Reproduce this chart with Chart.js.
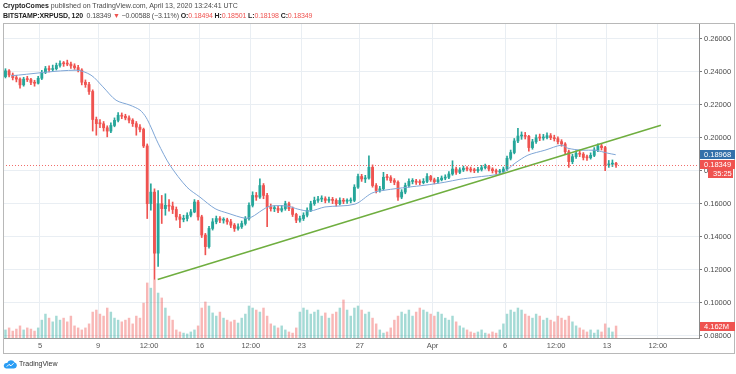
<!DOCTYPE html>
<html>
<head>
<meta charset="utf-8">
<script src="https://cdn.jsdelivr.net/npm/chart.js@4.4.1/dist/chart.umd.min.js"></script>
<style>
  html, body { margin: 0; padding: 0; background: #fff; }
  body { width: 736px; height: 374px; position: relative; overflow: hidden; font-family: "Liberation Sans", Arial, sans-serif; }
  #chart { position: absolute; left: 0; top: 0; }
  .hdr { position: absolute; left: 3px; font-size: 7px; line-height: 10px; color: #4a4a4a; white-space: nowrap; }
  .hdr b { color: #222; }
  #hdr1 { top: 1px; }
  #hdr2 { top: 11px; letter-spacing: -0.12px; }
  .red { color: #ef5350; }
  #foot { position: absolute; left: 3px; top: 359px; height: 10px; font-size: 7px; line-height: 10px; color: #333; white-space: nowrap; }
  #foot svg { position: absolute; left: 0; top: 0; }
  #foot span { position: absolute; left: 16px; top: 0; }
</style>
</head>
<body>
<canvas id="chart" width="736" height="374"></canvas>
<div class="hdr" id="hdr1"><b>CryptoComes</b> published on TradingView.com, April 13, 2020 13:24:41 UTC</div>
<div class="hdr" id="hdr2"><b>BITSTAMP:XRPUSD, 120</b>&nbsp; 0.18349 <span class="red">▼</span> −0.00588 (−3.11%) <b>O:</b><span class="red">0.18494</span> <b>H:</b><span class="red">0.18501</span> <b>L:</b><span class="red">0.18198</span> <b>C:</b><span class="red">0.18349</span></div>
<div id="foot">
  <svg width="14" height="10" viewBox="0 0 14 10"><path d="M3 9.5 H11 A3 3 0 0 0 11.6 3.6 A4 4 0 0 0 4.2 4 A2.8 2.8 0 0 0 3 9.5 Z" fill="#2a9df4"/><path d="M3.8 7.6 L6 5.4 L8 6.8 L10.6 4.2" stroke="#fff" stroke-width="1" fill="none"/></svg>
  <span>TradingView</span>
</div>
<script>
// 6h candles, x = days after Mar 1 (centre of candle)
const startDay = 1.625;
const candleStep = 0.25;
const firstOpen = 0.2370;

const closes = [
  0.2405,0.2380,0.2364,0.2355,0.2320,0.2355,0.2352,0.2335,0.2330,0.2360,
  0.2396,0.2418,0.2413,0.2418,0.2438,0.2450,0.2448,0.2446,0.2435,0.2425,
  0.2410,0.2336,0.2322,0.2280,0.2110,0.2085,0.2084,0.2060,0.2040,0.2074,
  0.2105,0.2136,0.2130,0.2120,0.2106,0.2085,0.2064,0.2050,0.1950,0.1600,
  0.1670,0.1300,0.1600,0.1570,0.1590,0.1585,0.1565,0.1520,0.1505,0.1510,
  0.1530,0.1550,0.1610,0.1520,0.1410,0.1340,0.1450,0.1490,0.1510,0.1500,
  0.1502,0.1490,0.1470,0.1450,0.1460,0.1480,0.1510,0.1590,0.1650,0.1640,
  0.1710,0.1650,0.1580,0.1570,0.1572,0.1560,0.1570,0.1600,0.1570,0.1535,
  0.1500,0.1510,0.1530,0.1560,0.1600,0.1620,0.1628,0.1630,0.1620,0.1625,
  0.1620,0.1600,0.1620,0.1615,0.1617,0.1620,0.1700,0.1765,0.1750,0.1755,
  0.1820,0.1710,0.1680,0.1690,0.1760,0.1758,0.1740,0.1730,0.1640,0.1670,
  0.1710,0.1735,0.1737,0.1730,0.1728,0.1735,0.1765,0.1745,0.1733,0.1745,
  0.1755,0.1760,0.1780,0.1810,0.1790,0.1805,0.1815,0.1810,0.1803,0.1800,
  0.1808,0.1818,0.1825,0.1810,0.1800,0.1792,0.1795,0.1810,0.1875,0.1910,
  0.1980,0.2010,0.2012,0.2008,0.1940,0.1975,0.2000,0.1998,0.2000,0.2012,
  0.2000,0.1994,0.1976,0.1962,0.1915,0.1855,0.1885,0.1905,0.1900,0.1880,
  0.1878,0.1893,0.1925,0.1950,0.1940,0.1835,0.1840,0.1845,0.18349
];

const highs = [
  0.2418,0.2412,0.2392,0.2378,0.2362,0.2366,0.2372,0.2360,0.2348,0.2372,
  0.2408,0.2432,0.2436,0.2440,0.2452,0.2465,0.2462,0.2470,0.2458,0.2448,
  0.2438,0.2418,0.2350,0.2335,0.2290,0.2125,0.2110,0.2098,0.2072,0.2090,
  0.2120,0.2152,0.2150,0.2142,0.2132,0.2115,0.2098,0.2080,0.2058,0.1962,
  0.1720,0.1690,0.1680,0.1650,0.1660,0.1625,0.1610,0.1580,0.1535,0.1530,
  0.1545,0.1565,0.1625,0.1620,0.1530,0.1420,0.1462,0.1510,0.1525,0.1522,
  0.1515,0.1512,0.1505,0.1480,0.1478,0.1495,0.1522,0.1605,0.1672,0.1668,
  0.1750,0.1722,0.1662,0.1598,0.1588,0.1585,0.1590,0.1615,0.1610,0.1580,
  0.1542,0.1525,0.1545,0.1575,0.1615,0.1640,0.1645,0.1648,0.1642,0.1640,
  0.1638,0.1630,0.1635,0.1632,0.1630,0.1635,0.1715,0.1780,0.1778,0.1772,
  0.1890,0.1835,0.1722,0.1705,0.1790,0.1778,0.1770,0.1752,0.1738,0.1685,
  0.1725,0.1750,0.1752,0.1748,0.1745,0.1752,0.1782,0.1772,0.1755,0.1760,
  0.1768,0.1775,0.1795,0.1860,0.1822,0.1818,0.1828,0.1825,0.1822,0.1815,
  0.1820,0.1832,0.1840,0.1832,0.1818,0.1810,0.1808,0.1822,0.1888,0.1925,
  0.1995,0.2057,0.2035,0.2032,0.2015,0.1990,0.2018,0.2022,0.2020,0.2030,
  0.2025,0.2015,0.2005,0.1988,0.1970,0.1925,0.1900,0.1920,0.1918,0.1910,
  0.1895,0.1908,0.1940,0.1962,0.1960,0.1948,0.1862,0.1865,0.18501
];

const lows = [
  0.2362,0.2368,0.2350,0.2338,0.2300,0.2312,0.2340,0.2322,0.2312,0.2325,
  0.2352,0.2388,0.2398,0.2402,0.2410,0.2428,0.2432,0.2436,0.2420,0.2414,
  0.2398,0.2320,0.2305,0.2262,0.2040,0.2015,0.2060,0.2040,0.2005,0.2030,
  0.2066,0.2096,0.2115,0.2108,0.2090,0.2068,0.2015,0.2035,0.1940,0.1510,
  0.1560,0.1141,0.1220,0.1480,0.1530,0.1555,0.1540,0.1500,0.1455,0.1490,
  0.1495,0.1520,0.1545,0.1500,0.1395,0.1290,0.1330,0.1440,0.1478,0.1485,
  0.1482,0.1475,0.1455,0.1432,0.1440,0.1450,0.1470,0.1500,0.1580,0.1620,
  0.1632,0.1630,0.1460,0.1555,0.1552,0.1545,0.1550,0.1560,0.1558,0.1522,
  0.1485,0.1488,0.1498,0.1520,0.1552,0.1590,0.1608,0.1612,0.1605,0.1608,
  0.1600,0.1585,0.1592,0.1600,0.1602,0.1605,0.1612,0.1692,0.1735,0.1728,
  0.1748,0.1700,0.1665,0.1670,0.1682,0.1742,0.1728,0.1715,0.1620,0.1630,
  0.1660,0.1700,0.1720,0.1716,0.1715,0.1720,0.1728,0.1735,0.1720,0.1725,
  0.1738,0.1745,0.1752,0.1772,0.1778,0.1782,0.1795,0.1798,0.1792,0.1788,
  0.1790,0.1798,0.1810,0.1798,0.1786,0.1778,0.1780,0.1785,0.1802,0.1865,
  0.1902,0.1970,0.1990,0.1992,0.1918,0.1930,0.1965,0.1982,0.1985,0.1992,
  0.1988,0.1980,0.1962,0.1948,0.1900,0.1820,0.1842,0.1875,0.1885,0.1865,
  0.1862,0.1870,0.1885,0.1915,0.1925,0.1800,0.1820,0.1825,0.18198
];

// volume, millions
const volumes = [
  2.8,3.5,2.4,3.1,4.2,2.8,3.5,3.1,2.4,3.5,
  6.2,8.3,6.9,5.6,7.6,6.2,6.9,5.6,7.6,4.2,
  3.5,2.8,3.5,4.9,9.0,9.7,8.3,7.6,10.4,9.0,
  6.9,6.2,5.6,6.2,6.9,4.9,7.6,6.9,12.1,19.1,
  17.3,20.1,15.6,13.9,10.4,7.6,6.2,2.8,2.1,1.7,
  1.4,2.1,2.8,4.2,10.4,12.5,11.1,8.7,7.6,9.0,
  6.9,6.2,5.6,6.2,5.2,6.9,8.3,11.1,10.4,9.7,
  9.0,10.4,7.6,4.9,4.2,3.5,4.2,2.8,2.1,1.7,
  3.5,9.0,10.4,9.7,8.3,9.0,9.7,7.6,8.7,6.9,
  8.3,9.0,10.4,13.2,9.7,7.6,10.4,11.1,9.7,8.3,
  9.0,6.9,4.9,2.8,1.7,2.1,3.5,6.2,7.6,9.0,
  8.3,9.7,7.6,9.0,10.4,9.7,9.0,8.3,7.6,9.0,
  8.3,6.9,6.2,7.6,5.6,4.2,3.5,2.8,2.1,1.7,
  2.1,2.8,1.7,1.4,2.1,1.7,2.8,4.9,8.3,9.7,
  9.0,10.4,9.7,8.3,7.6,6.9,8.3,7.6,6.2,6.9,
  6.2,5.6,7.6,6.9,6.2,7.6,5.6,4.2,3.5,2.8,
  2.1,2.8,1.7,2.8,2.1,4.9,3.5,2.1,4.162
];

// moving average (blue line)
const maDays = [2.0, 6.48, 7.51, 8.33, 9.23, 10.19, 10.88, 11.29, 11.63, 12.12, 12.94, 14.11, 15.0, 16.04, 16.93, 18.1, 18.58, 19.27, 19.82, 21.06, 21.74, 22.57, 23.6, 25.66, 26.83, 27.73, 29.31, 30.48, 31.85, 32.89, 33.92, 35.77, 36.67, 37.56, 38.73, 39.9, 40.31, 41.28, 42.17, 43.06, 43.6];
const maValues = [0.2375, 0.2409, 0.2379, 0.2308, 0.2227, 0.2197, 0.2167, 0.2124, 0.2064, 0.1967, 0.1833, 0.1700, 0.1640, 0.1570, 0.1542, 0.1512, 0.1520, 0.1560, 0.1585, 0.1585, 0.1567, 0.1555, 0.1580, 0.1597, 0.1664, 0.1682, 0.1700, 0.1712, 0.1730, 0.1748, 0.1760, 0.1785, 0.1845, 0.1894, 0.1924, 0.1955, 0.1936, 0.1924, 0.1924, 0.1906, 0.18968];

// green trend line
const trendDays = [12.095, 46.71];
const trendPrices = [0.1141, 0.2075];

const tickDays = [4, 8, 11.5, 15, 18.5, 22, 26, 31, 36, 39.5, 43, 46.5];
const tickLabels = ['5', '9', '12:00', '16', '12:00', '23', '27', 'Apr', '6', '12:00', '13', '12:00'];

const lastMa = 0.18968;
const lastPrice = 0.18349;
const countdown = '35:25';
const lastVolLabel = '4.162M';

const UP = '#26a69a', DOWN = '#ef5350';

const bodies = [], wicks = [], vols = [];
const bodyColors = [], volColors = [];
for (let i = 0; i < closes.length; i++) {
  let o = i == 0 ? firstOpen : closes[i - 1];
  let c = closes[i];
  let x = startDay + i * candleStep;
  let up = c >= o;
  bodies.push({ x: x, y: [o, c] });
  wicks.push({ x: x, y: [lows[i], highs[i]] });
  vols.push({ x: x, y: volumes[i] });
  bodyColors.push(up ? UP : DOWN);
  volColors.push(up ? 'rgba(38,166,154,0.42)' : 'rgba(239,83,80,0.42)');
}
const maData = maDays.map((d, i) => ({ x: d, y: maValues[i] }));
const trendData = trendDays.map((d, i) => ({ x: d, y: trendPrices[i] }));

function tag(ctx, yc, text, bg, x0, x1, tx) {
  ctx.fillStyle = bg;
  ctx.fillRect(x0, Math.round(yc - 4.5), x1 - x0, 9);
  ctx.fillStyle = '#fff';
  ctx.textBaseline = 'middle';
  ctx.textAlign = 'left';
  ctx.fillText(text, tx, yc + 0.5);
}

const overlays = {
  id: 'overlays',
  afterDatasetsDraw(chart) {
    const ctx = chart.ctx, a = chart.chartArea;
    const y = Math.round(chart.scales.y.getPixelForValue(lastPrice)) + 0.5;
    ctx.save();
    ctx.strokeStyle = 'rgba(239,83,80,0.85)';
    ctx.lineWidth = 1;
    ctx.setLineDash([1, 2]);
    ctx.beginPath();
    ctx.moveTo(a.left, y);
    ctx.lineTo(a.right, y);
    ctx.stroke();
    ctx.restore();
  },
  afterDraw(chart) {
    const ctx = chart.ctx, a = chart.chartArea;
    const ys = chart.scales.y, yv = chart.scales.yVol;
    ctx.save();
    ctx.strokeStyle = '#b8b8b8';
    ctx.lineWidth = 1;
    ctx.strokeRect(a.left + 0.5, a.top + 0.5, 735 - a.left - 1, 353 - a.top);
    ctx.font = '7.5px "Liberation Sans", Arial, sans-serif';
    tag(ctx, ys.getPixelForValue(lastMa), lastMa.toFixed(5), '#3470aa', 700, 735, 704);
    let yp = ys.getPixelForValue(lastPrice);
    tag(ctx, yp, lastPrice.toFixed(5), '#ef5350', 700, 735, 704);
    tag(ctx, yp + 9, countdown, '#ef5350', 708, 733, 713);
    tag(ctx, yv.getPixelForValue(volumes[volumes.length - 1]), lastVolLabel, '#ef5350', 700, 735, 704);
    ctx.restore();
  }
};

Chart.defaults.font.family = '"Liberation Sans", Arial, sans-serif';
Chart.defaults.font.size = 7.5;
Chart.defaults.color = '#4a4a4a';

new Chart(document.getElementById('chart'), {
  type: 'bar',
  data: {
    datasets: [
      { type: 'line', data: trendData, borderColor: '#6fae3f', borderWidth: 1.5, pointRadius: 0, order: 1 },
      { type: 'line', data: maData, borderColor: '#7fa6d6', borderWidth: 1, pointRadius: 0, tension: 0.3, order: 2 },
      { data: bodies, backgroundColor: bodyColors, barThickness: 2.2, minBarLength: 1, grouped: false, order: 3 },
      { data: wicks, backgroundColor: bodyColors, barThickness: 1, grouped: false, order: 4 },
      { data: vols, yAxisID: 'yVol', backgroundColor: volColors, barThickness: 1.8, grouped: false, order: 5 }
    ]
  },
  options: {
    responsive: false,
    animation: false,
    layout: { padding: { left: 3, top: 23, right: 1, bottom: 21 } },
    plugins: { legend: { display: false }, tooltip: { enabled: false } },
    scales: {
      x: {
        type: 'linear',
        min: 1.455,
        max: 49.33,
        offset: false,
        grid: { offset: false, color: '#e9eef3', drawTicks: false },
        border: { color: '#9a9a9a' },
        afterBuildTicks: (scale) => { scale.ticks = tickDays.map(v => ({ value: v })); },
        afterFit: (scale) => { scale.height = 15; },
        ticks: {
          autoSkip: false,
          maxRotation: 0,
          padding: 3,
          color: '#555',
          callback: (value, index) => tickLabels[index]
        }
      },
      y: {
        position: 'right',
        min: 0.0786,
        max: 0.2695,
        grid: { color: '#e9eef3', tickLength: 3, tickColor: '#777' },
        border: { color: '#8a8a8a' },
        afterFit: (scale) => { scale.width = 36; },
        ticks: { stepSize: 0.02, includeBounds: false, padding: 2, color: '#4a4a4a', callback: (v) => v.toFixed(5) }
      },
      yVol: {
        display: false,
        min: 0,
        max: 109.3
      }
    }
  },
  plugins: [overlays]
});
</script>
</body>
</html>
